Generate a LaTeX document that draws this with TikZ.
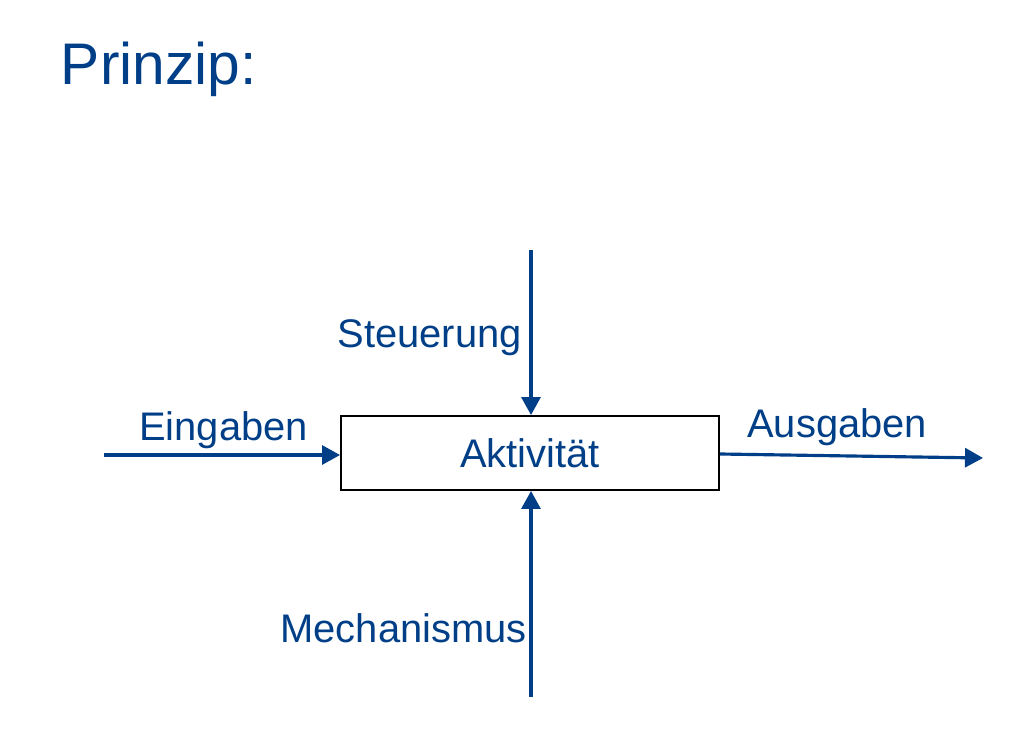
\documentclass[tikz,border=0pt]{standalone}
\usepackage{fontspec}
\setmainfont{Liberation Sans}
\usetikzlibrary{calc, arrows.meta, positioning}
\definecolor{idefblue}{RGB}{0,63,135}

\begin{document}
\begin{tikzpicture}
    [
        node distance=15mm,auto,
        box/.style={draw, line width=1.1pt, minimum width=7.56cm, minimum height=1.48cm, text=idefblue, font=\fontsize{22.7}{27}\selectfont},
        lbl/.style={text=idefblue, inner sep=0pt, font=\fontsize{22.7}{27}\selectfont},
        title/.style={text=idefblue, inner sep=0pt, font=\fontsize{33.4}{40}\selectfont}
    ]
    \tikzstyle{line} = [draw, idefblue, line width=1.8pt, -{Triangle[length=3.6mm,width=3.8mm]}]

    \useasboundingbox (0,0) rectangle (20.2,-14.84);

    % Title
    \node[title, anchor=base west] (prinzip) at (1.21,-1.70) {Prinzip:};

    % Activity
    \node[box] (akt) at (10.6,-9.06) {Aktivität};

    \coordinate (steuer) at (10.62,-5.0);
    \coordinate (mech) at (10.62,-13.94);
    \coordinate (ein) at (2.08,-9.10);
    \coordinate (aus) at (19.66,-9.16);

    \path[line] (steuer) -- (steuer |- akt.north);
    \path[line] (mech) -- (mech |- akt.south);
    \path[line] (ein) -- (ein -| akt.west);
    \path[line] (akt.east |- 0,-9.08) -- (aus);

    % Labels
    \node[lbl, anchor=base east] (l_steuer) at (10.44,-6.94) {Steuerung};
    \node[lbl, anchor=base west] (l_ein) at (2.78,-8.80) {Eingaben};
    \node[lbl, anchor=base west] (l_aus) at (14.94,-8.74) {Ausgaben};
    \node[lbl, anchor=base east] (l_mech) at (10.54,-12.84) {Mechanismus};

\end{tikzpicture}
\end{document}
